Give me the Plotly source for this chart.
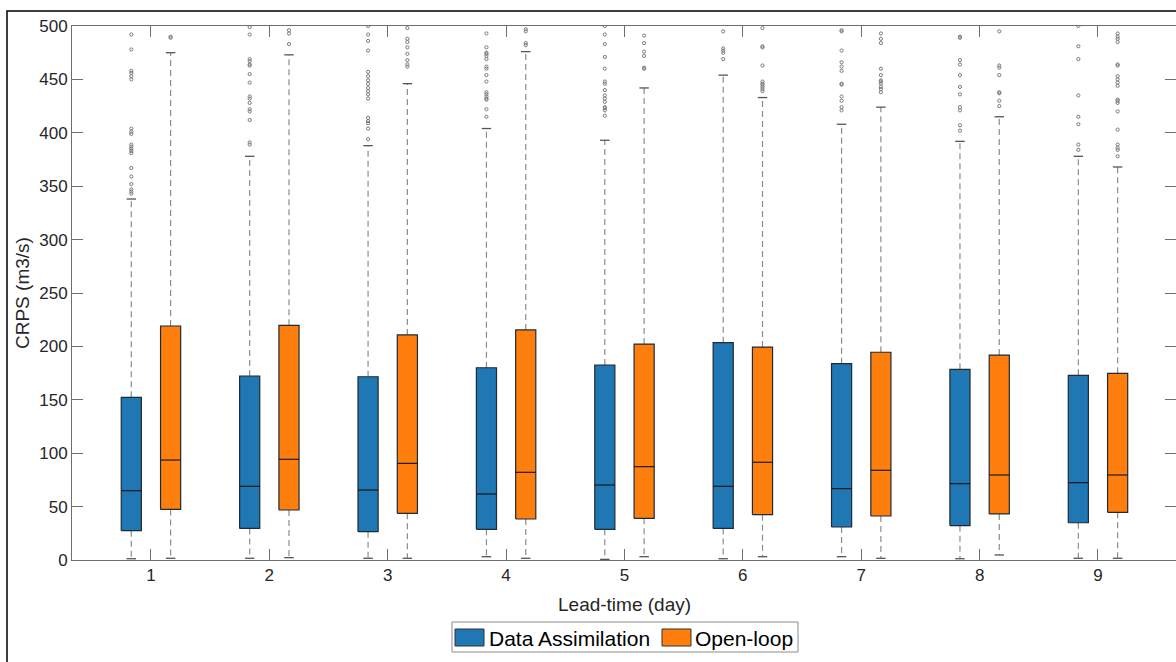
import plotly.graph_objects as go

# ---------------- data ----------------
days = [1, 2, 3, 4, 5, 6, 7, 8, 9]
tick_labels = ["1", "2", "3", "4", "5", "6", "7", "8", "9"]
series_names = ["Data Assimilation", "Open-loop"]

da_lo = [1.2, 1.6, 1.6, 3.1, 0.6, 1.2, 3.1, 1.2, 1.6]
da_q1 = [27.5, 29.6, 26.5, 28.7, 28.7, 29.6, 30.9, 32.1, 34.9]
da_med = [64.9, 69.0, 65.5, 61.8, 70.2, 69.0, 66.8, 71.5, 72.4]
da_q3 = [152.3, 172.3, 171.6, 180.0, 182.6, 203.5, 183.8, 178.5, 172.9]
da_hi = [338, 378, 388, 404, 393, 454, 408, 392, 378]

ol_lo = [1.6, 2.2, 1.6, 1.6, 3.1, 3.1, 1.6, 4.7, 1.6]
ol_q1 = [47.4, 46.8, 43.7, 38.4, 39.0, 42.4, 41.2, 43.1, 44.6]
ol_med = [93.6, 94.3, 90.5, 82.1, 87.4, 91.5, 84.0, 79.6, 79.6]
ol_q3 = [219.1, 219.7, 210.7, 215.4, 202.2, 199.4, 194.5, 191.9, 174.8]
ol_hi = [475, 473, 446, 476, 442, 433, 424, 415, 368]

da_out = [
    [492, 478, 458, 456, 453, 450, 404, 401, 399, 389, 387, 385, 383, 381, 367, 359, 352, 347, 345, 343],
    [499, 492, 469, 467, 464, 463, 455, 447, 434, 432, 428, 422, 420, 412, 391, 389],
    [500, 492, 486, 477, 457, 453, 449, 446, 442, 439, 436, 432, 414, 411, 409, 404, 394],
    [493, 480, 475, 474, 472, 469, 462, 460, 454, 448, 438, 436, 434, 432, 431, 422, 415],
    [500, 492, 483, 471, 460, 448, 446, 440, 435, 432, 429, 424, 423, 421, 416],
    [495, 479, 477, 475, 469],
    [496, 495, 477, 466, 462, 458, 446, 445, 434, 430, 424, 421],
    [490, 489, 468, 464, 454, 443, 436, 424, 421, 407, 402],
    [500, 481, 469, 435, 415, 408, 389, 384],
]
ol_out = [
    [490, 489],
    [496, 493, 483],
    [498, 488, 485, 480, 474, 468, 464, 462],
    [497, 495, 484, 482],
    [491, 484, 476, 472, 461, 460],
    [498, 481, 480, 463, 448, 446, 445, 443, 441, 439],
    [493, 488, 484, 460, 454, 449, 448, 446, 443, 441, 438],
    [495, 463, 461, 454, 438, 437, 430, 425],
    [493, 490, 488, 485, 464, 463, 453, 450, 447, 444, 431, 430, 428, 420, 403, 389, 386, 384, 378],
]

colors = ["#1f77b4", "#ff7f0e"]

# ---------------- style ----------------
FONT = "Arial, Liberation Sans, sans-serif"
offsets = [-0.166, 0.166]
half_w = 0.085
cap_w = 0.04

fig = go.Figure()

series = [
    (da_lo, da_q1, da_med, da_q3, da_hi, da_out),
    (ol_lo, ol_q1, ol_med, ol_q3, ol_hi, ol_out),
]

for si, (lo, q1, med, q3, hi, outs) in enumerate(series):
    centers = [d + offsets[si] for d in days]
    # whiskers (dashed)
    wx, wy = [], []
    for c, a, b, e, f in zip(centers, lo, q1, q3, hi):
        wx += [c, c, None, c, c, None]
        wy += [e, f, None, b, a, None]
    fig.add_trace(go.Scatter(x=wx, y=wy, mode="lines", showlegend=False, hoverinfo="skip",
                             line=dict(color="#8c8c8c", width=1.2, dash="6px,4px")))
    # caps
    cx, cy = [], []
    for c, a, f in zip(centers, lo, hi):
        cx += [c - cap_w, c + cap_w, None, c - cap_w, c + cap_w, None]
        cy += [f, f, None, a, a, None]
    fig.add_trace(go.Scatter(x=cx, y=cy, mode="lines", showlegend=False, hoverinfo="skip",
                             line=dict(color="#555555", width=1.3)))
    # boxes
    bx, by = [], []
    for c, b, e in zip(centers, q1, q3):
        bx += [c - half_w, c + half_w, c + half_w, c - half_w, c - half_w, None]
        by += [b, b, e, e, b, None]
    fig.add_trace(go.Scatter(x=bx, y=by, mode="lines", fill="toself", fillcolor=colors[si],
                             showlegend=False, hoverinfo="skip", name=series_names[si],
                             line=dict(color="#1e2a36", width=1.2)))
    # medians
    mx, my = [], []
    for c, m in zip(centers, med):
        mx += [c - half_w, c + half_w, None]
        my += [m, m, None]
    fig.add_trace(go.Scatter(x=mx, y=my, mode="lines", showlegend=False, hoverinfo="skip",
                             line=dict(color="#1a1a1a", width=1.2)))
    # outliers
    ox, oy = [], []
    for c, o in zip(centers, outs):
        ox += [c] * len(o)
        oy += o
    fig.add_trace(go.Scatter(x=ox, y=oy, mode="markers", showlegend=False, hoverinfo="skip",
                             marker=dict(symbol="circle-open", size=3.2, color="#7a7a7a",
                                         line=dict(width=1, color="#7a7a7a"))))

# ---------------- layout ----------------
W, H = 1176, 662
ML, MR, MT, MB = 72, 0, 26, 102
PW, PH = W - ML - MR, H - MT - MB


def px(xp):
    return (xp - ML) / PW


def py(yp):
    return (H - MB - yp) / PH


axis_common = dict(
    showline=True, linecolor="#6e6e6e", linewidth=1, mirror="ticks",
    ticks="inside", ticklen=11, tickwidth=1, tickcolor="#6e6e6e",
    showgrid=False, zeroline=False,
    tickfont=dict(family=FONT, size=17, color="#262626"),
)

fig.update_layout(
    width=W, height=H,
    margin=dict(l=ML, r=MR, t=MT, b=MB),
    paper_bgcolor="white", plot_bgcolor="white",
    showlegend=False,
    xaxis=dict(range=[0.333, 9.659], tickvals=days, ticktext=tick_labels, **axis_common),
    yaxis=dict(range=[0, 500], tick0=0, dtick=50, **axis_common),
)

shapes = []
annotations = []
# outer frame
shapes.append(dict(type="rect", xref="paper", yref="paper",
                   x0=px(7), x1=px(1200), y0=py(700), y1=py(11),
                   line=dict(color="black", width=1.5), fillcolor="rgba(0,0,0,0)", layer="above"))
# axis titles
annotations.append(dict(xref="paper", yref="paper", x=px(22), y=py(293), text="CRPS (m3/s)",
                        textangle=-90, showarrow=False, xanchor="center", yanchor="middle",
                        font=dict(family=FONT, size=19, color="#262626")))
annotations.append(dict(xref="paper", yref="paper", x=px(624), y=py(604), text="Lead-time (day)",
                        showarrow=False, xanchor="center", yanchor="middle",
                        font=dict(family=FONT, size=19, color="#262626")))
# legend
shapes.append(dict(type="rect", xref="paper", yref="paper",
                   x0=px(452), x1=px(798), y0=py(652), y1=py(622),
                   line=dict(color="#8a8a8a", width=1), fillcolor="white"))
sw_x = [455, 662]
tx_x = [487, 693]
for i in range(2):
    shapes.append(dict(type="rect", xref="paper", yref="paper",
                       x0=px(sw_x[i]), x1=px(sw_x[i] + 29), y0=py(646), y1=py(629),
                       line=dict(color="#333333", width=1), fillcolor=colors[i]))
    annotations.append(dict(xref="paper", yref="paper", x=px(tx_x[i]), y=py(638),
                            text=series_names[i], showarrow=False, xanchor="left", yanchor="middle",
                            font=dict(family=FONT, size=21, color="black")))

fig.update_layout(shapes=shapes, annotations=annotations)

fig.write_html(
    "out.html",
    config={"displayModeBar": False},
    post_script="document.body.style.margin='0';document.body.style.overflow='hidden';",
)
